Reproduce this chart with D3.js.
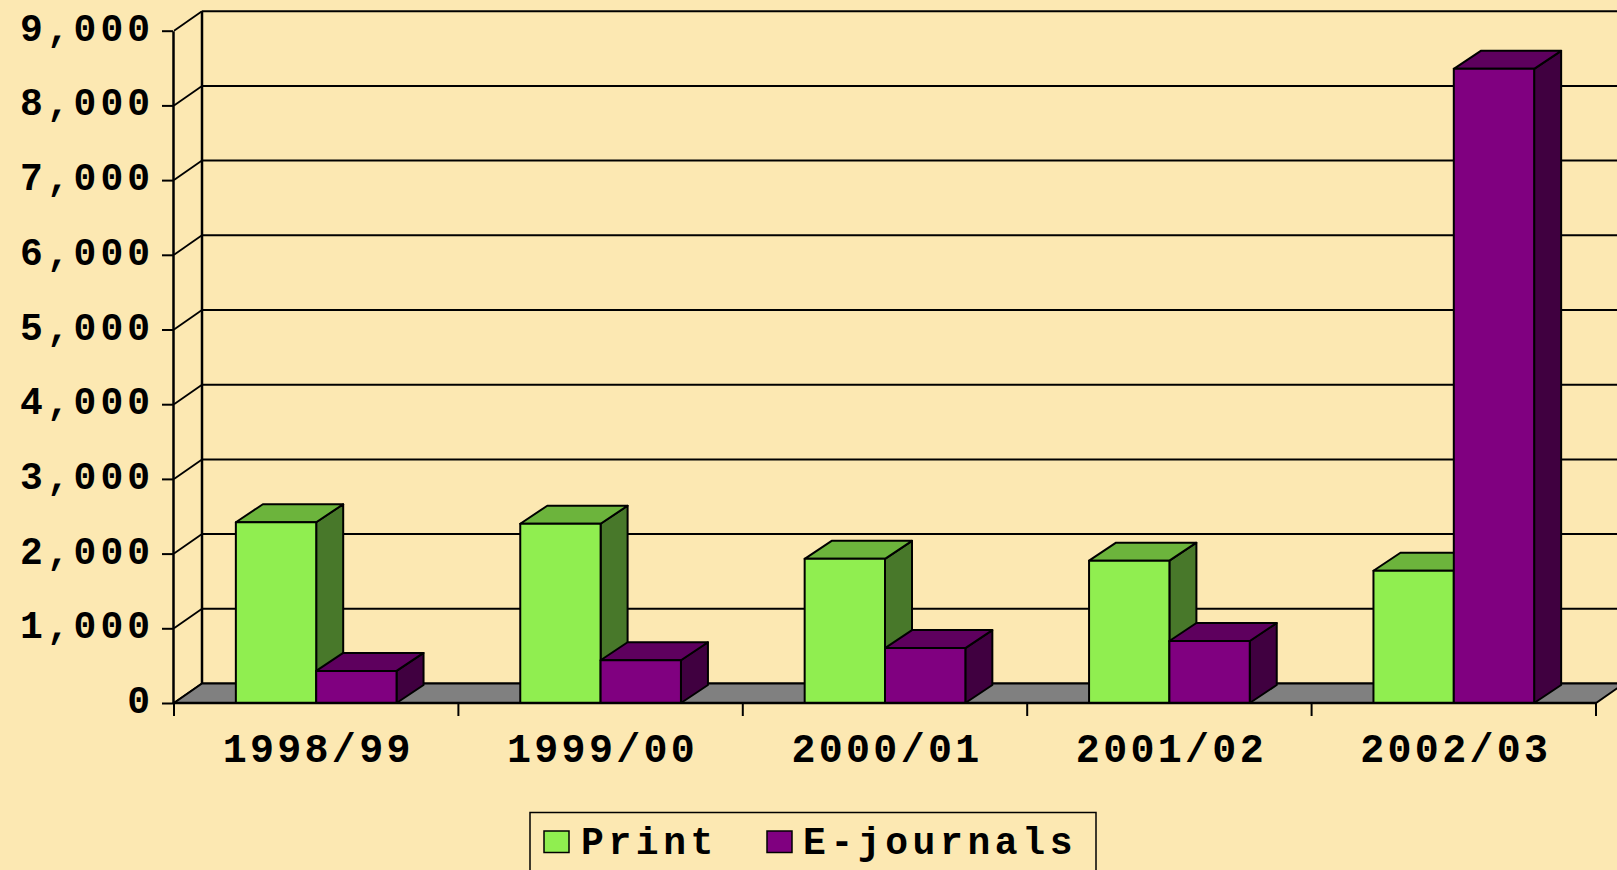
<!DOCTYPE html>
<html>
<head>
<meta charset="utf-8">
<script src="https://cdn.jsdelivr.net/npm/d3@7.9.0/dist/d3.min.js"></script>
<style>
  html, body { margin: 0; padding: 0; background: #fce8b2; overflow: hidden; }
  svg { display: block; }
  text { font-family: "Liberation Mono", "Courier New", monospace; font-weight: bold; fill: #000; }
</style>
</head>
<body>
<svg width="1617" height="870"></svg>
<script>
// data
const years = ['1998/99', '1999/00', '2000/01', '2001/02', '2002/03'];
const seriesNames = ['Print', 'E-journals'];
const printValues = [2420, 2400, 1930, 1905, 1770];
const ejournalValues = [430, 572, 735, 830, 8490];
const yTicks = [0, 1000, 2000, 3000, 4000, 5000, 6000, 7000, 8000, 9000];

const fronts = ['#90ee50', '#800080'];
const tops = ['#6cb43c', '#5e005e'];
const sides = ['#48782a', '#400040'];

const svg = d3.select('svg');

// 3d offsets (oblique projection)
const depthX = 28, depthY = -19.5;
const barDX = 27, barDY = -18;

let y = d3.scaleLinear().domain([0, 9000]).range([703, 30.7]);
let x = d3.scaleBand().domain(years).range([174, 1596]).paddingInner(0.435).paddingOuter(0.2175);
let xSub = d3.scaleBand().domain(seriesNames).range([0, x.bandwidth()]);

const left = 174, right = 1596;

// back wall gridlines
svg.append('g').selectAll('line').data(yTicks).join('line')
  .attr('x1', left + depthX).attr('x2', right + depthX)
  .attr('y1', (d) => y(d) + depthY).attr('y2', (d) => y(d) + depthY)
  .attr('stroke', '#000').attr('stroke-width', 2);

// side wall: back vertical + diagonals
svg.append('line')
  .attr('x1', left + depthX).attr('x2', left + depthX)
  .attr('y1', y(0) + depthY).attr('y2', y(9000) + depthY)
  .attr('stroke', '#000').attr('stroke-width', 2.5);
svg.append('g').selectAll('line').data(yTicks).join('line')
  .attr('x1', left).attr('x2', left + depthX)
  .attr('y1', (d) => y(d)).attr('y2', (d) => y(d) + depthY)
  .attr('stroke', '#000').attr('stroke-width', 1.8);

// floor
svg.append('path')
  .attr('d', `M${left},${y(0)}L${right},${y(0)}L${right + depthX},${y(0) + depthY}L${left + depthX},${y(0) + depthY}Z`)
  .attr('fill', '#808080').attr('stroke', '#000').attr('stroke-width', 2);

// bars
let bars = [];
years.forEach((yr, i) => {
  bars.push({ year: yr, s: 0, value: printValues[i] });
  bars.push({ year: yr, s: 1, value: ejournalValues[i] });
});

bars.forEach((b) => {
  let x0 = x(b.year) + xSub(seriesNames[b.s]);
  let x1 = x0 + xSub.bandwidth();
  let y0 = y(0), y1 = y(b.value);
  let g = svg.append('g').attr('stroke', '#000').attr('stroke-width', 2).attr('stroke-linejoin', 'round');
  g.append('path')
    .attr('d', `M${x1},${y0}L${x1 + barDX},${y0 + barDY}L${x1 + barDX},${y1 + barDY}L${x1},${y1}Z`)
    .attr('fill', sides[b.s]);
  g.append('path')
    .attr('d', `M${x0},${y1}L${x1},${y1}L${x1 + barDX},${y1 + barDY}L${x0 + barDX},${y1 + barDY}Z`)
    .attr('fill', tops[b.s]);
  g.append('rect')
    .attr('x', x0).attr('y', y1).attr('width', x1 - x0).attr('height', y0 - y1)
    .attr('fill', fronts[b.s]);
});

// y axis (front)
let yAxis = svg.append('g')
  .attr('transform', `translate(${left - 1},0)`)
  .call(d3.axisLeft(y).tickValues(yTicks).tickFormat(d3.format(',')).tickSize(11).tickPadding(8).tickSizeOuter(0));
yAxis.select('.domain').attr('stroke-width', 2.5);
yAxis.selectAll('.tick line').attr('stroke-width', 2);
yAxis.selectAll('.tick text')
  .attr('font-size', 38).attr('dy', 9.5)
  .style('letter-spacing', '4px')
  .style('font-family', '"Liberation Mono", monospace').style('font-weight', 'bold');

// x axis front line + boundary ticks
svg.append('line')
  .attr('x1', left).attr('x2', right).attr('y1', y(0)).attr('y2', y(0))
  .attr('stroke', '#000').attr('stroke-width', 2.5);
let bounds = years.map((d) => x(d) - x.step() * x.paddingOuter()).concat([right]);
svg.append('g').selectAll('line').data(bounds).join('line')
  .attr('x1', (d) => d).attr('x2', (d) => d)
  .attr('y1', y(0)).attr('y2', y(0) + 13)
  .attr('stroke', '#000').attr('stroke-width', 2);

svg.append('g').selectAll('text').data(years).join('text')
  .attr('x', (d) => x(d) + x.bandwidth() / 2 + 2)
  .attr('y', 762)
  .attr('text-anchor', 'middle')
  .attr('font-size', 40)
  .style('letter-spacing', '3.3px')
  .text((d) => d);

// legend
let legend = svg.append('g');
legend.append('rect')
  .attr('x', 530).attr('y', 812.5).attr('width', 566).attr('height', 70)
  .attr('fill', 'none').attr('stroke', '#000').attr('stroke-width', 1.5);
let legendItems = [
  { name: seriesNames[0], sx: 544, tx: 581 },
  { name: seriesNames[1], sx: 767, tx: 803 },
];
legendItems.forEach((d, i) => {
  legend.append('rect')
    .attr('x', d.sx).attr('y', 831).attr('width', 25).attr('height', 21.5)
    .attr('fill', fronts[i]).attr('stroke', '#000').attr('stroke-width', 1.5);
  legend.append('text')
    .attr('x', d.tx).attr('y', 853.5)
    .attr('font-size', 38)
    .style('letter-spacing', '4.6px')
    .text(d.name);
});
</script>
</body>
</html>
